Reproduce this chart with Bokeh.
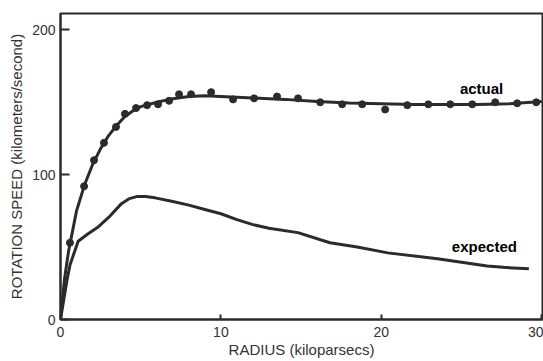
from bokeh.plotting import figure
from bokeh.models import Range1d, FixedTicker, Label
from bokeh.embed import file_html
from bokeh.resources import INLINE

# observed rotation speed measurements (radius kpc, speed km/s)
obs_radius = [0.59, 1.47, 2.09, 2.71, 3.46, 4.02, 4.71, 5.40, 6.08, 6.77, 7.39, 8.14,
              9.39, 10.76, 12.07, 13.50, 14.81, 16.19, 17.56, 18.81, 20.24, 21.62,
              22.93, 24.30, 25.67, 27.10, 28.47, 29.66]
obs_speed = [53, 92, 110, 122, 133, 142, 146, 148, 148.6, 151, 155.5, 155.5,
             157, 152, 152.7, 154, 152.7, 150, 148.6, 148.6, 145, 148, 148.6,
             148.6, 148.6, 150, 149.3, 150]

# fitted "actual" curve
actual_radius = [0, 0.25, 0.5, 1.0, 1.5, 2.0, 2.5, 3.0, 3.5, 4.0, 4.5, 5.0, 6.0, 7.0,
                 8.0, 9.0, 10, 12, 14, 16, 18, 20, 22, 24, 26, 28, 30]
actual_speed = [0, 28, 47, 75, 93, 107, 118, 127, 134, 140, 144, 147, 150, 152.5,
                154, 154.5, 154, 153, 152, 150.5, 149.5, 149, 148.5, 148.5, 148.5, 149, 150.5]

# "expected" curve
expected_radius = [0, 0.4, 0.6, 1.1, 1.7, 2.3, 3.0, 3.8, 4.3, 4.8, 5.3, 5.9, 7.0, 8.0,
                   9.0, 10.0, 11.0, 12.0, 13.0, 14.8, 16.8, 18.5, 20.4, 23.5, 26.6,
                   27.6, 29.2]
expected_speed = [0, 27, 38, 54, 59, 63.5, 70.5, 80, 83.5, 85, 85, 84, 81.5, 79,
                  76, 73, 69, 65.5, 63, 60, 53, 50, 46, 42, 37, 36, 35]

x_ticks = [0, 10, 20, 30]
y_ticks = [0, 100, 200]

INK = "#2b2b2b"
FONT = "Liberation Sans"

p = figure(width=543, height=361, output_backend="svg", toolbar_location=None,
           x_range=Range1d(0, 30.05), y_range=Range1d(0, 211.3),
           min_border_left=60, min_border_right=1, min_border_top=13, min_border_bottom=42)
p.background_fill_color = "white"
p.border_fill_color = "white"
p.xgrid.visible = False
p.ygrid.visible = False
p.outline_line_color = INK
p.outline_line_width = 2
p.outline_line_alpha = 1.0

p.line(actual_radius, actual_speed, line_color=INK, line_width=3, line_join="round")
p.line(expected_radius, expected_speed, line_color=INK, line_width=3, line_join="round")
p.scatter(obs_radius, obs_speed, size=7, fill_color=INK, line_color=INK)

for ax in (p.xaxis[0], p.yaxis[0]):
    ax.axis_line_color = INK
    ax.axis_line_width = 2
    ax.major_tick_line_color = INK
    ax.major_tick_line_width = 2
    ax.major_tick_out = 0
    ax.minor_tick_line_color = None
    ax.major_label_text_font = FONT
    ax.major_label_text_font_size = "14px"
    ax.major_label_text_color = "#333333"
    ax.axis_label_text_font = FONT
    ax.axis_label_text_font_size = "15px"
    ax.axis_label_text_font_style = "normal"
    ax.axis_label_text_color = "#333333"

p.xaxis[0].ticker = FixedTicker(ticks=x_ticks)
p.yaxis[0].ticker = FixedTicker(ticks=y_ticks)
p.xaxis[0].major_tick_in = 5
p.yaxis[0].major_tick_in = 9
p.xaxis[0].major_label_standoff = 7
p.yaxis[0].major_label_standoff = 5
p.xaxis[0].axis_label = "RADIUS (kiloparsecs)"
p.yaxis[0].axis_label = "ROTATION SPEED (kilometers/second)"
p.xaxis[0].axis_label_standoff = 1
p.yaxis[0].axis_label_standoff = 4

p.add_layout(Label(x=24.9, y=159.6, text="actual", text_font=FONT, text_font_size="15px",
                   text_font_style="bold", text_color="black", text_baseline="alphabetic"))
p.add_layout(Label(x=24.4, y=50.1, text="expected", text_font=FONT, text_font_size="15px",
                   text_font_style="bold", text_color="black", text_baseline="alphabetic"))

open("out.html", "w").write(file_html(p, INLINE))
